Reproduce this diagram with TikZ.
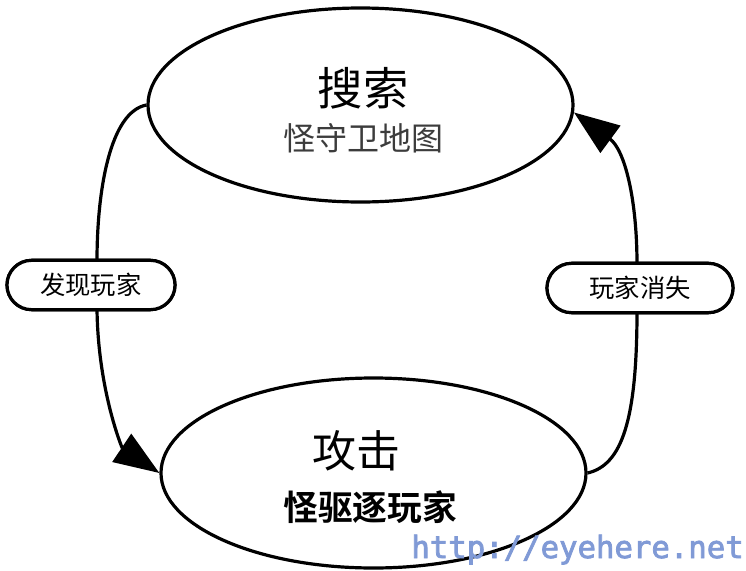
\documentclass[tikz,border=0pt]{standalone}
\usepackage{fontspec}
\setmainfont{Liberation Serif}
\newfontfamily\cjk{Noto Sans CJK SC}
\newfontfamily\cjkb{Noto Sans CJK SC Bold}
\newfontfamily\wmfont{DejaVu Sans Mono}[FakeBold=2.5]
\usetikzlibrary{shapes.geometric,shapes.misc,arrows.meta}
\definecolor{wmblue}{RGB}{128,154,214}
\definecolor{subgrey}{RGB}{60,60,60}
\tikzset{
  statebox/.style={ellipse,draw=black,line width=2.4pt,fill=white,inner sep=0pt,minimum width=318.75pt},
  condbox/.style={rounded rectangle,draw=black,line width=2.4pt,fill=white,inner sep=0pt,minimum height=37pt,font=\cjk\fontsize{19}{22}\selectfont},
  conn/.style={line width=2.4pt,draw=black},
  bigtip/.style={-{Triangle[length=34pt,width=25pt]}},
  txt/.style={inner sep=0pt}
}
\begin{document}
\begin{tikzpicture}[x=0.75pt,y=-0.75pt]
\useasboundingbox (0,0) rectangle (746,571);
% states
\node[statebox,minimum height=145.5pt] (top) at (360.5,105) {};
\node[statebox,minimum height=142.5pt] (bot) at (373.5,473) {};
\node[txt,font=\cjk\fontsize{34}{38}\selectfont] (toptitle) at (363,88) {搜索};
\node[txt,font=\cjk\fontsize{24}{28}\selectfont,text=subgrey] (topsub) at (363,138) {怪守卫地图};
\node[txt,font=\cjk\fontsize{33}{37}\selectfont] (bottitle) at (356,451) {攻击};
\node[txt,font=\cjkb\fontsize{26}{30}\selectfont] (botsub) at (370,507) {怪驱逐玩家};
% conditions
\node[condbox,minimum width=126pt] (lab1) at (91,285) {发现玩家};
\node[condbox,minimum width=139.5pt] (lab2) at (640,288) {玩家消失};
\coordinate (l1n) at (97,261);
\coordinate (l1s) at (97,309);
\coordinate (l2n) at (637,264);
\coordinate (l2s) at (637,311);
% connectors
\draw[conn] (top.west) .. controls (110,112) and (97,190) .. (l1n);
\draw[conn,bigtip] (l1s) .. controls (98,390) and (122,448) .. (bot.west);
\draw[conn] (bot.east) .. controls (622,465) and (637,420) .. (l2s);
\draw[conn,bigtip] (l2n) .. controls (637,200) and (625,150) .. (top.-2);
% redraw condition boxes on top
\node[condbox,minimum width=126pt] at (lab1) {发现玩家};
\node[condbox,minimum width=139.5pt] at (lab2) {玩家消失};
% watermark
\node[txt,anchor=base east,font=\wmfont\fontsize{23}{26}\selectfont,text=wmblue] (wm) at (744,558) {http://eyehere.net};
\end{tikzpicture}
\end{document}
